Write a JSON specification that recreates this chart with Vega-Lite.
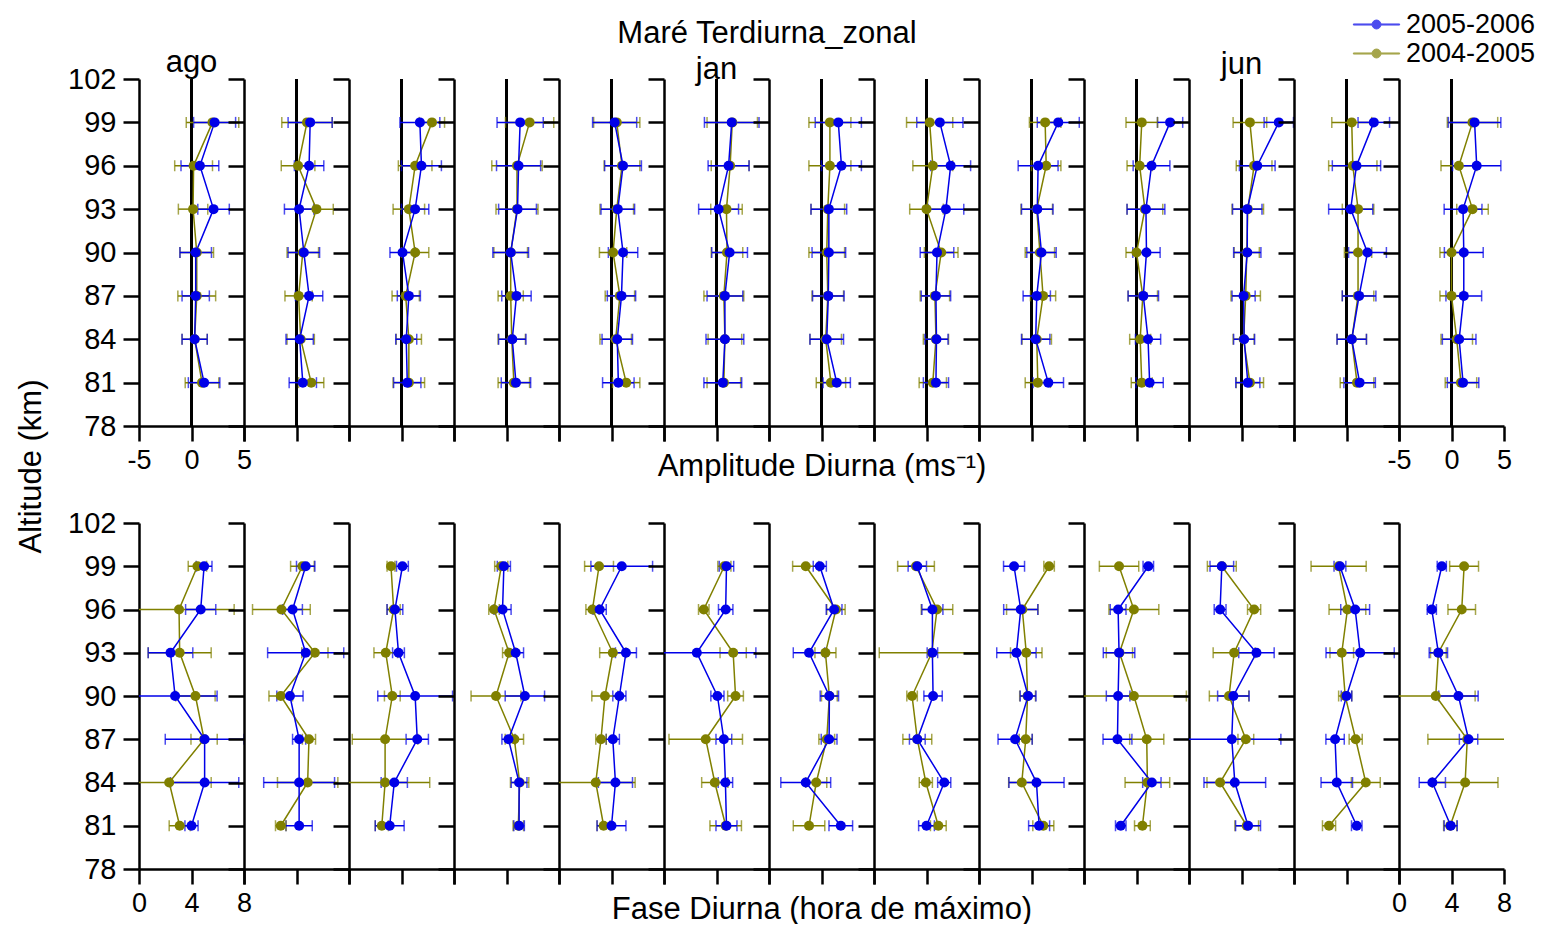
{
"$schema": "https://vega.github.io/schema/vega-lite/v6.json",
"background": "white",
"padding": {"left": 15, "top": 10, "right": 5, "bottom": 0},
"data": {"name": "d"},
"datasets": {"d": [
{"m":1,"a":99,"p":"2004-2005","amp":2.0,"ea":2.5,"f":4.45,"ef":0.7},
{"m":1,"a":96,"p":"2004-2005","amp":0.2,"ea":1.8,"f":3.05,"ef":4.2},
{"m":1,"a":93,"p":"2004-2005","amp":0.15,"ea":1.4,"f":3.1,"ef":2.4},
{"m":1,"a":90,"p":"2004-2005","amp":0.5,"ea":1.6,"f":4.3,"ef":1.5},
{"m":1,"a":87,"p":"2004-2005","amp":0.5,"ea":1.8,"f":4.96,"ef":1.0},
{"m":1,"a":84,"p":"2004-2005","amp":0.3,"ea":1.2,"f":2.3,"ef":3.2},
{"m":1,"a":81,"p":"2004-2005","amp":1.0,"ea":1.6,"f":3.1,"ef":0.8},
{"m":2,"a":99,"p":"2004-2005","amp":1.0,"ea":2.4,"f":4.45,"ef":0.9},
{"m":2,"a":96,"p":"2004-2005","amp":0.15,"ea":1.6,"f":2.85,"ef":2.2},
{"m":2,"a":93,"p":"2004-2005","amp":1.9,"ea":1.6,"f":5.4,"ef":1.0},
{"m":2,"a":90,"p":"2004-2005","amp":0.6,"ea":1.5,"f":2.8,"ef":0.9},
{"m":2,"a":87,"p":"2004-2005","amp":0.2,"ea":1.3,"f":4.95,"ef":0.5},
{"m":2,"a":84,"p":"2004-2005","amp":0.4,"ea":1.3,"f":4.85,"ef":2.3},
{"m":2,"a":81,"p":"2004-2005","amp":1.4,"ea":1.2,"f":2.8,"ef":0.4},
{"m":3,"a":99,"p":"2004-2005","amp":2.9,"ea":1.2,"f":3.2,"ef":0.3},
{"m":3,"a":96,"p":"2004-2005","amp":1.3,"ea":1.6,"f":3.4,"ef":0.5},
{"m":3,"a":93,"p":"2004-2005","amp":0.7,"ea":1.5,"f":2.8,"ef":0.9},
{"m":3,"a":90,"p":"2004-2005","amp":1.3,"ea":1.3,"f":3.3,"ef":0.6},
{"m":3,"a":87,"p":"2004-2005","amp":0.4,"ea":1.3,"f":2.75,"ef":2.5},
{"m":3,"a":84,"p":"2004-2005","amp":0.7,"ea":1.2,"f":2.75,"ef":3.4},
{"m":3,"a":81,"p":"2004-2005","amp":0.7,"ea":1.5,"f":2.5,"ef":0.5},
{"m":4,"a":99,"p":"2004-2005","amp":2.2,"ea":2.3,"f":3.6,"ef":0.5},
{"m":4,"a":96,"p":"2004-2005","amp":1.0,"ea":2.4,"f":3.05,"ef":0.4},
{"m":4,"a":93,"p":"2004-2005","amp":1.0,"ea":2.0,"f":4.2,"ef":0.5},
{"m":4,"a":90,"p":"2004-2005","amp":0.4,"ea":1.6,"f":3.2,"ef":1.9},
{"m":4,"a":87,"p":"2004-2005","amp":0.4,"ea":1.2,"f":4.6,"ef":0.7},
{"m":4,"a":84,"p":"2004-2005","amp":0.5,"ea":1.3,"f":5.0,"ef":0.7},
{"m":4,"a":81,"p":"2004-2005","amp":0.7,"ea":1.5,"f":4.9,"ef":0.4},
{"m":5,"a":99,"p":"2004-2005","amp":0.5,"ea":2.2,"f":3.05,"ef":1.1},
{"m":5,"a":96,"p":"2004-2005","amp":1.0,"ea":1.7,"f":2.55,"ef":0.5},
{"m":5,"a":93,"p":"2004-2005","amp":0.5,"ea":1.6,"f":4.1,"ef":1.0},
{"m":5,"a":90,"p":"2004-2005","amp":0.15,"ea":1.3,"f":3.5,"ef":1.0},
{"m":5,"a":87,"p":"2004-2005","amp":0.8,"ea":1.4,"f":3.2,"ef":0.4},
{"m":5,"a":84,"p":"2004-2005","amp":0.4,"ea":1.5,"f":2.8,"ef":3.0},
{"m":5,"a":81,"p":"2004-2005","amp":1.4,"ea":1.3,"f":3.4,"ef":0.5},
{"m":6,"a":99,"p":"2004-2005","amp":1.5,"ea":2.4,"f":4.6,"ef":0.5},
{"m":6,"a":96,"p":"2004-2005","amp":1.3,"ea":1.8,"f":3.03,"ef":0.4},
{"m":6,"a":93,"p":"2004-2005","amp":0.95,"ea":1.5,"f":5.27,"ef":1.0},
{"m":6,"a":90,"p":"2004-2005","amp":1.0,"ea":1.5,"f":5.45,"ef":0.6},
{"m":6,"a":87,"p":"2004-2005","amp":0.7,"ea":1.9,"f":3.18,"ef":2.8},
{"m":6,"a":84,"p":"2004-2005","amp":0.8,"ea":1.6,"f":3.87,"ef":1.0},
{"m":6,"a":81,"p":"2004-2005","amp":0.7,"ea":1.6,"f":4.7,"ef":1.2},
{"m":7,"a":99,"p":"2004-2005","amp":0.8,"ea":2.0,"f":2.8,"ef":1.0},
{"m":7,"a":96,"p":"2004-2005","amp":0.8,"ea":2.0,"f":5.1,"ef":0.7},
{"m":7,"a":93,"p":"2004-2005","amp":0.6,"ea":1.6,"f":4.3,"ef":0.8},
{"m":7,"a":90,"p":"2004-2005","amp":0.5,"ea":1.7,"f":4.6,"ef":0.6},
{"m":7,"a":87,"p":"2004-2005","amp":0.6,"ea":1.5,"f":4.4,"ef":0.6},
{"m":7,"a":84,"p":"2004-2005","amp":0.4,"ea":1.5,"f":3.6,"ef":0.8},
{"m":7,"a":81,"p":"2004-2005","amp":0.9,"ea":1.4,"f":3.05,"ef":1.2},
{"m":8,"a":99,"p":"2004-2005","amp":0.3,"ea":2.2,"f":3.2,"ef":1.4},
{"m":8,"a":96,"p":"2004-2005","amp":0.6,"ea":1.9,"f":4.8,"ef":1.2},
{"m":8,"a":93,"p":"2004-2005","amp":0.0,"ea":1.6,"f":4.4,"ef":4.0},
{"m":8,"a":90,"p":"2004-2005","amp":1.4,"ea":1.6,"f":2.9,"ef":0.4},
{"m":8,"a":87,"p":"2004-2005","amp":0.8,"ea":1.4,"f":3.3,"ef":1.1},
{"m":8,"a":84,"p":"2004-2005","amp":0.9,"ea":1.2,"f":3.95,"ef":0.5},
{"m":8,"a":81,"p":"2004-2005","amp":0.6,"ea":1.3,"f":4.9,"ef":0.6},
{"m":9,"a":99,"p":"2004-2005","amp":1.3,"ea":1.5,"f":5.34,"ef":0.4},
{"m":9,"a":96,"p":"2004-2005","amp":1.4,"ea":1.4,"f":3.3,"ef":1.2},
{"m":9,"a":93,"p":"2004-2005","amp":0.5,"ea":1.5,"f":3.6,"ef":1.2},
{"m":9,"a":90,"p":"2004-2005","amp":0.8,"ea":1.4,"f":3.7,"ef":0.6},
{"m":9,"a":87,"p":"2004-2005","amp":1.1,"ea":1.2,"f":3.56,"ef":0.5},
{"m":9,"a":84,"p":"2004-2005","amp":0.5,"ea":1.4,"f":3.26,"ef":1.0},
{"m":9,"a":81,"p":"2004-2005","amp":0.6,"ea":1.2,"f":4.9,"ef":0.8},
{"m":10,"a":99,"p":"2004-2005","amp":0.5,"ea":1.5,"f":2.67,"ef":1.5},
{"m":10,"a":96,"p":"2004-2005","amp":0.3,"ea":1.2,"f":3.8,"ef":1.9},
{"m":10,"a":93,"p":"2004-2005","amp":0.8,"ea":1.7,"f":2.7,"ef":1.0},
{"m":10,"a":90,"p":"2004-2005","amp":0.0,"ea":1.0,"f":3.8,"ef":4.0},
{"m":10,"a":87,"p":"2004-2005","amp":0.6,"ea":1.4,"f":4.78,"ef":1.3},
{"m":10,"a":84,"p":"2004-2005","amp":0.35,"ea":1.0,"f":4.83,"ef":1.7},
{"m":10,"a":81,"p":"2004-2005","amp":0.5,"ea":1.0,"f":4.45,"ef":0.6},
{"m":11,"a":99,"p":"2004-2005","amp":0.8,"ea":1.6,"f":2.5,"ef":1.1},
{"m":11,"a":96,"p":"2004-2005","amp":1.2,"ea":1.7,"f":4.96,"ef":0.5},
{"m":11,"a":93,"p":"2004-2005","amp":0.6,"ea":1.5,"f":3.44,"ef":1.6},
{"m":11,"a":90,"p":"2004-2005","amp":0.5,"ea":1.2,"f":3.05,"ef":1.5},
{"m":11,"a":87,"p":"2004-2005","amp":0.4,"ea":1.4,"f":4.33,"ef":0.6},
{"m":11,"a":84,"p":"2004-2005","amp":0.2,"ea":1.0,"f":2.37,"ef":1.0},
{"m":11,"a":81,"p":"2004-2005","amp":0.8,"ea":1.3,"f":4.4,"ef":0.9},
{"m":12,"a":99,"p":"2004-2005","amp":0.5,"ea":1.9,"f":3.4,"ef":2.1},
{"m":12,"a":96,"p":"2004-2005","amp":0.6,"ea":2.3,"f":4.07,"ef":1.4},
{"m":12,"a":93,"p":"2004-2005","amp":1.1,"ea":1.5,"f":3.64,"ef":0.9},
{"m":12,"a":90,"p":"2004-2005","amp":1.1,"ea":1.3,"f":3.9,"ef":0.5},
{"m":12,"a":87,"p":"2004-2005","amp":1.1,"ea":1.5,"f":4.7,"ef":0.5},
{"m":12,"a":84,"p":"2004-2005","amp":0.5,"ea":1.4,"f":5.47,"ef":1.1},
{"m":12,"a":81,"p":"2004-2005","amp":1.0,"ea":1.6,"f":2.67,"ef":0.5},
{"m":13,"a":99,"p":"2004-2005","amp":2.0,"ea":2.4,"f":4.96,"ef":1.1},
{"m":13,"a":96,"p":"2004-2005","amp":0.7,"ea":1.7,"f":4.78,"ef":1.05},
{"m":13,"a":93,"p":"2004-2005","amp":2.0,"ea":1.5,"f":3.0,"ef":0.6},
{"m":13,"a":90,"p":"2004-2005","amp":0.0,"ea":1.1,"f":2.8,"ef":3.0},
{"m":13,"a":87,"p":"2004-2005","amp":0.0,"ea":1.1,"f":5.2,"ef":3.0},
{"m":13,"a":84,"p":"2004-2005","amp":0.5,"ea":1.5,"f":5.04,"ef":2.5},
{"m":13,"a":81,"p":"2004-2005","amp":0.9,"ea":1.5,"f":3.9,"ef":0.5},
{"m":1,"a":99,"p":"2005-2006","amp":2.2,"ea":2.0,"f":4.96,"ef":0.6},
{"m":1,"a":96,"p":"2005-2006","amp":0.8,"ea":1.8,"f":4.7,"ef":1.15},
{"m":1,"a":93,"p":"2005-2006","amp":2.1,"ea":1.5,"f":2.4,"ef":1.7},
{"m":1,"a":90,"p":"2005-2006","amp":0.4,"ea":1.5,"f":2.75,"ef":3.2},
{"m":1,"a":87,"p":"2005-2006","amp":0.4,"ea":1.3,"f":5.0,"ef":3.0},
{"m":1,"a":84,"p":"2005-2006","amp":0.3,"ea":1.2,"f":5.0,"ef":2.6},
{"m":1,"a":81,"p":"2005-2006","amp":1.2,"ea":1.5,"f":4.0,"ef":0.5},
{"m":2,"a":99,"p":"2005-2006","amp":1.3,"ea":2.1,"f":4.7,"ef":0.7},
{"m":2,"a":96,"p":"2005-2006","amp":1.2,"ea":1.4,"f":3.7,"ef":0.75},
{"m":2,"a":93,"p":"2005-2006","amp":0.25,"ea":1.4,"f":4.7,"ef":2.9},
{"m":2,"a":90,"p":"2005-2006","amp":0.7,"ea":1.5,"f":3.5,"ef":1.0},
{"m":2,"a":87,"p":"2005-2006","amp":1.2,"ea":1.3,"f":4.2,"ef":0.5},
{"m":2,"a":84,"p":"2005-2006","amp":0.3,"ea":1.3,"f":4.2,"ef":2.7},
{"m":2,"a":81,"p":"2005-2006","amp":0.6,"ea":1.3,"f":4.2,"ef":1.0},
{"m":3,"a":99,"p":"2005-2006","amp":1.75,"ea":1.9,"f":4.07,"ef":0.45},
{"m":3,"a":96,"p":"2005-2006","amp":1.9,"ea":1.9,"f":3.5,"ef":0.6},
{"m":3,"a":93,"p":"2005-2006","amp":1.3,"ea":1.3,"f":3.77,"ef":0.45},
{"m":3,"a":90,"p":"2005-2006","amp":0.1,"ea":1.2,"f":5.04,"ef":2.85},
{"m":3,"a":87,"p":"2005-2006","amp":0.7,"ea":1.1,"f":5.2,"ef":0.85},
{"m":3,"a":84,"p":"2005-2006","amp":0.45,"ea":1.0,"f":3.45,"ef":1.0},
{"m":3,"a":81,"p":"2005-2006","amp":0.55,"ea":1.3,"f":3.1,"ef":1.1},
{"m":4,"a":99,"p":"2005-2006","amp":1.3,"ea":2.2,"f":3.8,"ef":0.5},
{"m":4,"a":96,"p":"2005-2006","amp":1.15,"ea":2.1,"f":3.7,"ef":0.65},
{"m":4,"a":93,"p":"2005-2006","amp":1.05,"ea":1.8,"f":4.7,"ef":0.6},
{"m":4,"a":90,"p":"2005-2006","amp":0.4,"ea":1.7,"f":5.4,"ef":1.5},
{"m":4,"a":87,"p":"2005-2006","amp":0.95,"ea":1.4,"f":4.15,"ef":0.5},
{"m":4,"a":84,"p":"2005-2006","amp":0.55,"ea":1.3,"f":4.96,"ef":0.6},
{"m":4,"a":81,"p":"2005-2006","amp":0.9,"ea":1.4,"f":4.96,"ef":0.4},
{"m":5,"a":99,"p":"2005-2006","amp":0.3,"ea":2.1,"f":4.78,"ef":2.35},
{"m":5,"a":96,"p":"2005-2006","amp":1.1,"ea":1.75,"f":3.1,"ef":0.5},
{"m":5,"a":93,"p":"2005-2006","amp":0.6,"ea":1.6,"f":5.1,"ef":0.8},
{"m":5,"a":90,"p":"2005-2006","amp":1.1,"ea":1.4,"f":4.6,"ef":0.5},
{"m":5,"a":87,"p":"2005-2006","amp":0.95,"ea":1.35,"f":4.1,"ef":0.5},
{"m":5,"a":84,"p":"2005-2006","amp":0.55,"ea":1.45,"f":4.3,"ef":1.3},
{"m":5,"a":81,"p":"2005-2006","amp":0.65,"ea":1.5,"f":4.0,"ef":1.1},
{"m":6,"a":99,"p":"2005-2006","amp":1.45,"ea":2.6,"f":4.76,"ef":0.55},
{"m":6,"a":96,"p":"2005-2006","amp":1.15,"ea":1.95,"f":4.7,"ef":0.55},
{"m":6,"a":93,"p":"2005-2006","amp":0.2,"ea":1.9,"f":2.5,"ef":4.5},
{"m":6,"a":90,"p":"2005-2006","amp":1.25,"ea":1.7,"f":4.07,"ef":0.5},
{"m":6,"a":87,"p":"2005-2006","amp":0.8,"ea":1.7,"f":4.56,"ef":0.6},
{"m":6,"a":84,"p":"2005-2006","amp":0.8,"ea":1.8,"f":4.68,"ef":0.55},
{"m":6,"a":81,"p":"2005-2006","amp":0.6,"ea":1.8,"f":4.76,"ef":0.8},
{"m":7,"a":99,"p":"2005-2006","amp":1.6,"ea":2.2,"f":3.87,"ef":0.5},
{"m":7,"a":96,"p":"2005-2006","amp":1.9,"ea":1.9,"f":4.96,"ef":0.6},
{"m":7,"a":93,"p":"2005-2006","amp":0.7,"ea":1.7,"f":3.05,"ef":1.2},
{"m":7,"a":90,"p":"2005-2006","amp":0.7,"ea":1.6,"f":4.6,"ef":0.7},
{"m":7,"a":87,"p":"2005-2006","amp":0.65,"ea":1.5,"f":4.58,"ef":0.6},
{"m":7,"a":84,"p":"2005-2006","amp":0.5,"ea":1.6,"f":2.8,"ef":1.9},
{"m":7,"a":81,"p":"2005-2006","amp":1.45,"ea":1.3,"f":5.47,"ef":0.9},
{"m":8,"a":99,"p":"2005-2006","amp":1.27,"ea":2.2,"f":3.3,"ef":0.7},
{"m":8,"a":96,"p":"2005-2006","amp":2.3,"ea":1.9,"f":4.45,"ef":0.8},
{"m":8,"a":93,"p":"2005-2006","amp":1.85,"ea":1.7,"f":4.45,"ef":0.4},
{"m":8,"a":90,"p":"2005-2006","amp":1.0,"ea":1.6,"f":4.5,"ef":0.7},
{"m":8,"a":87,"p":"2005-2006","amp":0.9,"ea":1.4,"f":3.3,"ef":0.6},
{"m":8,"a":84,"p":"2005-2006","amp":0.95,"ea":1.1,"f":5.35,"ef":0.5},
{"m":8,"a":81,"p":"2005-2006","amp":0.9,"ea":1.2,"f":4.0,"ef":0.6},
{"m":9,"a":99,"p":"2005-2006","amp":2.55,"ea":2.0,"f":2.67,"ef":0.8},
{"m":9,"a":96,"p":"2005-2006","amp":0.63,"ea":1.9,"f":3.18,"ef":1.3},
{"m":9,"a":93,"p":"2005-2006","amp":0.55,"ea":1.5,"f":2.85,"ef":1.5},
{"m":9,"a":90,"p":"2005-2006","amp":0.95,"ea":1.4,"f":3.74,"ef":0.6},
{"m":9,"a":87,"p":"2005-2006","amp":0.5,"ea":1.3,"f":2.75,"ef":1.3},
{"m":9,"a":84,"p":"2005-2006","amp":0.4,"ea":1.35,"f":4.38,"ef":2.1},
{"m":9,"a":81,"p":"2005-2006","amp":1.6,"ea":1.45,"f":4.58,"ef":0.8},
{"m":10,"a":99,"p":"2005-2006","amp":3.2,"ea":1.2,"f":4.9,"ef":0.4},
{"m":10,"a":96,"p":"2005-2006","amp":1.43,"ea":1.75,"f":2.6,"ef":0.6},
{"m":10,"a":93,"p":"2005-2006","amp":0.9,"ea":1.8,"f":2.67,"ef":1.2},
{"m":10,"a":90,"p":"2005-2006","amp":0.95,"ea":1.3,"f":2.6,"ef":0.9},
{"m":10,"a":87,"p":"2005-2006","amp":0.65,"ea":1.45,"f":2.55,"ef":1.1},
{"m":10,"a":84,"p":"2005-2006","amp":1.1,"ea":1.2,"f":5.17,"ef":0.7},
{"m":10,"a":81,"p":"2005-2006","amp":1.25,"ea":1.3,"f":2.8,"ef":0.4},
{"m":11,"a":99,"p":"2005-2006","amp":3.55,"ea":1.4,"f":2.5,"ef":0.9},
{"m":11,"a":96,"p":"2005-2006","amp":1.5,"ea":1.7,"f":2.37,"ef":0.45},
{"m":11,"a":93,"p":"2005-2006","amp":0.55,"ea":1.4,"f":5.14,"ef":1.35},
{"m":11,"a":90,"p":"2005-2006","amp":0.55,"ea":1.3,"f":3.38,"ef":1.2},
{"m":11,"a":87,"p":"2005-2006","amp":0.2,"ea":1.1,"f":3.26,"ef":3.74},
{"m":11,"a":84,"p":"2005-2006","amp":0.25,"ea":1.0,"f":3.49,"ef":2.35},
{"m":11,"a":81,"p":"2005-2006","amp":0.6,"ea":1.15,"f":4.5,"ef":0.95},
{"m":12,"a":99,"p":"2005-2006","amp":2.6,"ea":1.5,"f":3.5,"ef":0.45},
{"m":12,"a":96,"p":"2005-2006","amp":0.95,"ea":2.3,"f":4.66,"ef":1.1},
{"m":12,"a":93,"p":"2005-2006","amp":0.4,"ea":2.1,"f":5.04,"ef":2.6},
{"m":12,"a":90,"p":"2005-2006","amp":2.0,"ea":1.8,"f":4.0,"ef":0.4},
{"m":12,"a":87,"p":"2005-2006","amp":1.2,"ea":1.6,"f":3.13,"ef":0.7},
{"m":12,"a":84,"p":"2005-2006","amp":0.5,"ea":1.4,"f":3.26,"ef":1.2},
{"m":12,"a":81,"p":"2005-2006","amp":1.25,"ea":1.5,"f":4.78,"ef":0.4},
{"m":13,"a":99,"p":"2005-2006","amp":2.2,"ea":2.5,"f":3.26,"ef":0.35},
{"m":13,"a":96,"p":"2005-2006","amp":2.4,"ea":2.3,"f":2.5,"ef":0.35},
{"m":13,"a":93,"p":"2005-2006","amp":1.1,"ea":1.8,"f":3.0,"ef":0.7},
{"m":13,"a":90,"p":"2005-2006","amp":1.17,"ea":1.85,"f":4.53,"ef":1.5},
{"m":13,"a":87,"p":"2005-2006","amp":1.17,"ea":1.7,"f":5.3,"ef":0.7},
{"m":13,"a":84,"p":"2005-2006","amp":0.73,"ea":1.6,"f":2.54,"ef":1.0},
{"m":13,"a":81,"p":"2005-2006","amp":1.1,"ea":1.5,"f":3.94,"ef":0.5}
]},
"columns": 13,
"spacing": {"row": 97, "column": 0},
"bounds": "flush",
"concat": [
{"width":105,"height":347,"title":{"text":"ago","frame":"group","offset":-14},"transform":[{"filter":"datum.m==1"}],"layer":[
{"mark":{"type":"rule","color":"black","strokeWidth":2.5},"encoding":{"x":{"datum":0,"type":"quantitative"}}},
{"mark":{"type":"errorbar","ticks":{"size":11},"thickness":1.5},"encoding":{"x":{"field":"amp","type":"quantitative","scale":{"domain":[-5,5]},"axis":{"values":[-5,-2.5,0,2.5,5],"tickSize":{"condition":{"test":"datum.value % 5 == 0","value":15},"value":8},"labelExpr":"datum.value % 5 == 0 ? (datum.value < 0 ? '-' + abs(datum.value) : '' + datum.value) : ''","labelOverlap":false,"labelFlush":false,"title":null}},"xError":{"field":"ea"},"y":{"field":"a","type":"quantitative","scale":{"domain":[78,102]},"axis":{"values":[78,79.5,81,82.5,84,85.5,87,88.5,90,91.5,93,94.5,96,97.5,99,100.5,102],"tickSize":{"condition":{"test":"datum.value % 3 == 0","value":16},"value":8},"labelExpr":"datum.value % 3 == 0 ? datum.label : ''","title":"Altitude (km)","titleX":-108,"titleY":387,"titleAngle":-90,"titleAlign":"center","titleBaseline":"middle"}},"color":{"field":"p","type":"nominal","scale":{"domain":["2005-2006","2004-2005"],"range":["#0000e8","#808000"]}}}},
{"mark":"line","encoding":{"x":{"field":"amp","type":"quantitative"},"y":{"field":"a","type":"quantitative"},"order":{"field":"a","type":"quantitative"},"color":{"field":"p","type":"nominal","scale":{"domain":["2005-2006","2004-2005"],"range":["#0000e8","#808000"]}}}},
{"mark":"point","encoding":{"x":{"field":"amp","type":"quantitative"},"y":{"field":"a","type":"quantitative"},"color":{"field":"p","type":"nominal","scale":{"domain":["2005-2006","2004-2005"],"range":["#0000e8","#808000"]},"legend":{"title":null,"symbolType":"M-1.65,-0.04H-0.3V0.04H-1.65Z M0.3,-0.04H1.65V0.04H0.3Z M-0.32,0A0.32,0.32 0 1,0 0.32,0A0.32,0.32 0 1,0 -0.32,0Z"}}}}
]},
{"width":105,"height":347,"transform":[{"filter":"datum.m==2"}],"layer":[
{"mark":{"type":"rule","color":"black","strokeWidth":2.5},"encoding":{"x":{"datum":0,"type":"quantitative"}}},
{"mark":{"type":"errorbar","ticks":{"size":11},"thickness":1.5},"encoding":{"x":{"field":"amp","type":"quantitative","scale":{"domain":[-5,5]},"axis":{"values":[-5,-2.5,0,2.5,5],"tickSize":{"condition":{"test":"datum.value % 5 == 0","value":15},"value":8},"labels":false,"title":null}},"xError":{"field":"ea"},"y":{"field":"a","type":"quantitative","scale":{"domain":[78,102]},"axis":{"values":[78,79.5,81,82.5,84,85.5,87,88.5,90,91.5,93,94.5,96,97.5,99,100.5,102],"tickSize":{"condition":{"test":"datum.value % 3 == 0","value":16},"value":8},"labels":false,"title":null}},"color":{"field":"p","type":"nominal","scale":{"domain":["2005-2006","2004-2005"],"range":["#0000e8","#808000"]}}}},
{"mark":"line","encoding":{"x":{"field":"amp","type":"quantitative"},"y":{"field":"a","type":"quantitative"},"order":{"field":"a","type":"quantitative"},"color":{"field":"p","type":"nominal","scale":{"domain":["2005-2006","2004-2005"],"range":["#0000e8","#808000"]}}}},
{"mark":"point","encoding":{"x":{"field":"amp","type":"quantitative"},"y":{"field":"a","type":"quantitative"},"color":{"field":"p","type":"nominal","scale":{"domain":["2005-2006","2004-2005"],"range":["#0000e8","#808000"]},"legend":{"title":null,"symbolType":"M-1.65,-0.04H-0.3V0.04H-1.65Z M0.3,-0.04H1.65V0.04H0.3Z M-0.32,0A0.32,0.32 0 1,0 0.32,0A0.32,0.32 0 1,0 -0.32,0Z"}}}}
]},
{"width":105,"height":347,"transform":[{"filter":"datum.m==3"}],"layer":[
{"mark":{"type":"rule","color":"black","strokeWidth":2.5},"encoding":{"x":{"datum":0,"type":"quantitative"}}},
{"mark":{"type":"errorbar","ticks":{"size":11},"thickness":1.5},"encoding":{"x":{"field":"amp","type":"quantitative","scale":{"domain":[-5,5]},"axis":{"values":[-5,-2.5,0,2.5,5],"tickSize":{"condition":{"test":"datum.value % 5 == 0","value":15},"value":8},"labels":false,"title":null}},"xError":{"field":"ea"},"y":{"field":"a","type":"quantitative","scale":{"domain":[78,102]},"axis":{"values":[78,79.5,81,82.5,84,85.5,87,88.5,90,91.5,93,94.5,96,97.5,99,100.5,102],"tickSize":{"condition":{"test":"datum.value % 3 == 0","value":16},"value":8},"labels":false,"title":null}},"color":{"field":"p","type":"nominal","scale":{"domain":["2005-2006","2004-2005"],"range":["#0000e8","#808000"]}}}},
{"mark":"line","encoding":{"x":{"field":"amp","type":"quantitative"},"y":{"field":"a","type":"quantitative"},"order":{"field":"a","type":"quantitative"},"color":{"field":"p","type":"nominal","scale":{"domain":["2005-2006","2004-2005"],"range":["#0000e8","#808000"]}}}},
{"mark":"point","encoding":{"x":{"field":"amp","type":"quantitative"},"y":{"field":"a","type":"quantitative"},"color":{"field":"p","type":"nominal","scale":{"domain":["2005-2006","2004-2005"],"range":["#0000e8","#808000"]},"legend":{"title":null,"symbolType":"M-1.65,-0.04H-0.3V0.04H-1.65Z M0.3,-0.04H1.65V0.04H0.3Z M-0.32,0A0.32,0.32 0 1,0 0.32,0A0.32,0.32 0 1,0 -0.32,0Z"}}}}
]},
{"width":105,"height":347,"transform":[{"filter":"datum.m==4"}],"layer":[
{"mark":{"type":"rule","color":"black","strokeWidth":2.5},"encoding":{"x":{"datum":0,"type":"quantitative"}}},
{"mark":{"type":"errorbar","ticks":{"size":11},"thickness":1.5},"encoding":{"x":{"field":"amp","type":"quantitative","scale":{"domain":[-5,5]},"axis":{"values":[-5,-2.5,0,2.5,5],"tickSize":{"condition":{"test":"datum.value % 5 == 0","value":15},"value":8},"labels":false,"title":null}},"xError":{"field":"ea"},"y":{"field":"a","type":"quantitative","scale":{"domain":[78,102]},"axis":{"values":[78,79.5,81,82.5,84,85.5,87,88.5,90,91.5,93,94.5,96,97.5,99,100.5,102],"tickSize":{"condition":{"test":"datum.value % 3 == 0","value":16},"value":8},"labels":false,"title":null}},"color":{"field":"p","type":"nominal","scale":{"domain":["2005-2006","2004-2005"],"range":["#0000e8","#808000"]}}}},
{"mark":"line","encoding":{"x":{"field":"amp","type":"quantitative"},"y":{"field":"a","type":"quantitative"},"order":{"field":"a","type":"quantitative"},"color":{"field":"p","type":"nominal","scale":{"domain":["2005-2006","2004-2005"],"range":["#0000e8","#808000"]}}}},
{"mark":"point","encoding":{"x":{"field":"amp","type":"quantitative"},"y":{"field":"a","type":"quantitative"},"color":{"field":"p","type":"nominal","scale":{"domain":["2005-2006","2004-2005"],"range":["#0000e8","#808000"]},"legend":{"title":null,"symbolType":"M-1.65,-0.04H-0.3V0.04H-1.65Z M0.3,-0.04H1.65V0.04H0.3Z M-0.32,0A0.32,0.32 0 1,0 0.32,0A0.32,0.32 0 1,0 -0.32,0Z"}}}}
]},
{"width":105,"height":347,"transform":[{"filter":"datum.m==5"}],"layer":[
{"mark":{"type":"rule","color":"black","strokeWidth":2.5},"encoding":{"x":{"datum":0,"type":"quantitative"}}},
{"mark":{"type":"errorbar","ticks":{"size":11},"thickness":1.5},"encoding":{"x":{"field":"amp","type":"quantitative","scale":{"domain":[-5,5]},"axis":{"values":[-5,-2.5,0,2.5,5],"tickSize":{"condition":{"test":"datum.value % 5 == 0","value":15},"value":8},"labels":false,"title":null}},"xError":{"field":"ea"},"y":{"field":"a","type":"quantitative","scale":{"domain":[78,102]},"axis":{"values":[78,79.5,81,82.5,84,85.5,87,88.5,90,91.5,93,94.5,96,97.5,99,100.5,102],"tickSize":{"condition":{"test":"datum.value % 3 == 0","value":16},"value":8},"labels":false,"title":null}},"color":{"field":"p","type":"nominal","scale":{"domain":["2005-2006","2004-2005"],"range":["#0000e8","#808000"]}}}},
{"mark":"line","encoding":{"x":{"field":"amp","type":"quantitative"},"y":{"field":"a","type":"quantitative"},"order":{"field":"a","type":"quantitative"},"color":{"field":"p","type":"nominal","scale":{"domain":["2005-2006","2004-2005"],"range":["#0000e8","#808000"]}}}},
{"mark":"point","encoding":{"x":{"field":"amp","type":"quantitative"},"y":{"field":"a","type":"quantitative"},"color":{"field":"p","type":"nominal","scale":{"domain":["2005-2006","2004-2005"],"range":["#0000e8","#808000"]},"legend":{"title":null,"symbolType":"M-1.65,-0.04H-0.3V0.04H-1.65Z M0.3,-0.04H1.65V0.04H0.3Z M-0.32,0A0.32,0.32 0 1,0 0.32,0A0.32,0.32 0 1,0 -0.32,0Z"}}}}
]},
{"width":105,"height":347,"title":{"text":"jan","frame":"group","offset":-8},"transform":[{"filter":"datum.m==6"}],"layer":[
{"mark":{"type":"rule","color":"black","strokeWidth":2.5},"encoding":{"x":{"datum":0,"type":"quantitative"}}},
{"mark":{"type":"errorbar","ticks":{"size":11},"thickness":1.5},"encoding":{"x":{"field":"amp","type":"quantitative","scale":{"domain":[-5,5]},"axis":{"values":[-5,-2.5,0,2.5,5],"tickSize":{"condition":{"test":"datum.value % 5 == 0","value":15},"value":8},"labels":false,"title":null}},"xError":{"field":"ea"},"y":{"field":"a","type":"quantitative","scale":{"domain":[78,102]},"axis":{"values":[78,79.5,81,82.5,84,85.5,87,88.5,90,91.5,93,94.5,96,97.5,99,100.5,102],"tickSize":{"condition":{"test":"datum.value % 3 == 0","value":16},"value":8},"labels":false,"title":null}},"color":{"field":"p","type":"nominal","scale":{"domain":["2005-2006","2004-2005"],"range":["#0000e8","#808000"]}}}},
{"mark":"line","encoding":{"x":{"field":"amp","type":"quantitative"},"y":{"field":"a","type":"quantitative"},"order":{"field":"a","type":"quantitative"},"color":{"field":"p","type":"nominal","scale":{"domain":["2005-2006","2004-2005"],"range":["#0000e8","#808000"]}}}},
{"mark":"point","encoding":{"x":{"field":"amp","type":"quantitative"},"y":{"field":"a","type":"quantitative"},"color":{"field":"p","type":"nominal","scale":{"domain":["2005-2006","2004-2005"],"range":["#0000e8","#808000"]},"legend":{"title":null,"symbolType":"M-1.65,-0.04H-0.3V0.04H-1.65Z M0.3,-0.04H1.65V0.04H0.3Z M-0.32,0A0.32,0.32 0 1,0 0.32,0A0.32,0.32 0 1,0 -0.32,0Z"}}}}
]},
{"width":105,"height":347,"title":{"text":"Maré Terdiurna_zonal","frame":"group","offset":28,"dx":-54.5},"transform":[{"filter":"datum.m==7"}],"layer":[
{"mark":{"type":"rule","color":"black","strokeWidth":2.5},"encoding":{"x":{"datum":0,"type":"quantitative"}}},
{"mark":{"type":"errorbar","ticks":{"size":11},"thickness":1.5},"encoding":{"x":{"field":"amp","type":"quantitative","scale":{"domain":[-5,5]},"axis":{"values":[-5,-2.5,0,2.5,5],"tickSize":{"condition":{"test":"datum.value % 5 == 0","value":15},"value":8},"labels":false,"title":"Amplitude Diurna (ms⁻¹)","titleY":40,"titleBaseline":"middle"}},"xError":{"field":"ea"},"y":{"field":"a","type":"quantitative","scale":{"domain":[78,102]},"axis":{"values":[78,79.5,81,82.5,84,85.5,87,88.5,90,91.5,93,94.5,96,97.5,99,100.5,102],"tickSize":{"condition":{"test":"datum.value % 3 == 0","value":16},"value":8},"labels":false,"title":null}},"color":{"field":"p","type":"nominal","scale":{"domain":["2005-2006","2004-2005"],"range":["#0000e8","#808000"]}}}},
{"mark":"line","encoding":{"x":{"field":"amp","type":"quantitative"},"y":{"field":"a","type":"quantitative"},"order":{"field":"a","type":"quantitative"},"color":{"field":"p","type":"nominal","scale":{"domain":["2005-2006","2004-2005"],"range":["#0000e8","#808000"]}}}},
{"mark":"point","encoding":{"x":{"field":"amp","type":"quantitative"},"y":{"field":"a","type":"quantitative"},"color":{"field":"p","type":"nominal","scale":{"domain":["2005-2006","2004-2005"],"range":["#0000e8","#808000"]},"legend":{"title":null,"symbolType":"M-1.65,-0.04H-0.3V0.04H-1.65Z M0.3,-0.04H1.65V0.04H0.3Z M-0.32,0A0.32,0.32 0 1,0 0.32,0A0.32,0.32 0 1,0 -0.32,0Z"}}}}
]},
{"width":105,"height":347,"transform":[{"filter":"datum.m==8"}],"layer":[
{"mark":{"type":"rule","color":"black","strokeWidth":2.5},"encoding":{"x":{"datum":0,"type":"quantitative"}}},
{"mark":{"type":"errorbar","ticks":{"size":11},"thickness":1.5},"encoding":{"x":{"field":"amp","type":"quantitative","scale":{"domain":[-5,5]},"axis":{"values":[-5,-2.5,0,2.5,5],"tickSize":{"condition":{"test":"datum.value % 5 == 0","value":15},"value":8},"labels":false,"title":null}},"xError":{"field":"ea"},"y":{"field":"a","type":"quantitative","scale":{"domain":[78,102]},"axis":{"values":[78,79.5,81,82.5,84,85.5,87,88.5,90,91.5,93,94.5,96,97.5,99,100.5,102],"tickSize":{"condition":{"test":"datum.value % 3 == 0","value":16},"value":8},"labels":false,"title":null}},"color":{"field":"p","type":"nominal","scale":{"domain":["2005-2006","2004-2005"],"range":["#0000e8","#808000"]}}}},
{"mark":"line","encoding":{"x":{"field":"amp","type":"quantitative"},"y":{"field":"a","type":"quantitative"},"order":{"field":"a","type":"quantitative"},"color":{"field":"p","type":"nominal","scale":{"domain":["2005-2006","2004-2005"],"range":["#0000e8","#808000"]}}}},
{"mark":"point","encoding":{"x":{"field":"amp","type":"quantitative"},"y":{"field":"a","type":"quantitative"},"color":{"field":"p","type":"nominal","scale":{"domain":["2005-2006","2004-2005"],"range":["#0000e8","#808000"]},"legend":{"title":null,"symbolType":"M-1.65,-0.04H-0.3V0.04H-1.65Z M0.3,-0.04H1.65V0.04H0.3Z M-0.32,0A0.32,0.32 0 1,0 0.32,0A0.32,0.32 0 1,0 -0.32,0Z"}}}}
]},
{"width":105,"height":347,"transform":[{"filter":"datum.m==9"}],"layer":[
{"mark":{"type":"rule","color":"black","strokeWidth":2.5},"encoding":{"x":{"datum":0,"type":"quantitative"}}},
{"mark":{"type":"errorbar","ticks":{"size":11},"thickness":1.5},"encoding":{"x":{"field":"amp","type":"quantitative","scale":{"domain":[-5,5]},"axis":{"values":[-5,-2.5,0,2.5,5],"tickSize":{"condition":{"test":"datum.value % 5 == 0","value":15},"value":8},"labels":false,"title":null}},"xError":{"field":"ea"},"y":{"field":"a","type":"quantitative","scale":{"domain":[78,102]},"axis":{"values":[78,79.5,81,82.5,84,85.5,87,88.5,90,91.5,93,94.5,96,97.5,99,100.5,102],"tickSize":{"condition":{"test":"datum.value % 3 == 0","value":16},"value":8},"labels":false,"title":null}},"color":{"field":"p","type":"nominal","scale":{"domain":["2005-2006","2004-2005"],"range":["#0000e8","#808000"]}}}},
{"mark":"line","encoding":{"x":{"field":"amp","type":"quantitative"},"y":{"field":"a","type":"quantitative"},"order":{"field":"a","type":"quantitative"},"color":{"field":"p","type":"nominal","scale":{"domain":["2005-2006","2004-2005"],"range":["#0000e8","#808000"]}}}},
{"mark":"point","encoding":{"x":{"field":"amp","type":"quantitative"},"y":{"field":"a","type":"quantitative"},"color":{"field":"p","type":"nominal","scale":{"domain":["2005-2006","2004-2005"],"range":["#0000e8","#808000"]},"legend":{"title":null,"symbolType":"M-1.65,-0.04H-0.3V0.04H-1.65Z M0.3,-0.04H1.65V0.04H0.3Z M-0.32,0A0.32,0.32 0 1,0 0.32,0A0.32,0.32 0 1,0 -0.32,0Z"}}}}
]},
{"width":105,"height":347,"transform":[{"filter":"datum.m==10"}],"layer":[
{"mark":{"type":"rule","color":"black","strokeWidth":2.5},"encoding":{"x":{"datum":0,"type":"quantitative"}}},
{"mark":{"type":"errorbar","ticks":{"size":11},"thickness":1.5},"encoding":{"x":{"field":"amp","type":"quantitative","scale":{"domain":[-5,5]},"axis":{"values":[-5,-2.5,0,2.5,5],"tickSize":{"condition":{"test":"datum.value % 5 == 0","value":15},"value":8},"labels":false,"title":null}},"xError":{"field":"ea"},"y":{"field":"a","type":"quantitative","scale":{"domain":[78,102]},"axis":{"values":[78,79.5,81,82.5,84,85.5,87,88.5,90,91.5,93,94.5,96,97.5,99,100.5,102],"tickSize":{"condition":{"test":"datum.value % 3 == 0","value":16},"value":8},"labels":false,"title":null}},"color":{"field":"p","type":"nominal","scale":{"domain":["2005-2006","2004-2005"],"range":["#0000e8","#808000"]}}}},
{"mark":"line","encoding":{"x":{"field":"amp","type":"quantitative"},"y":{"field":"a","type":"quantitative"},"order":{"field":"a","type":"quantitative"},"color":{"field":"p","type":"nominal","scale":{"domain":["2005-2006","2004-2005"],"range":["#0000e8","#808000"]}}}},
{"mark":"point","encoding":{"x":{"field":"amp","type":"quantitative"},"y":{"field":"a","type":"quantitative"},"color":{"field":"p","type":"nominal","scale":{"domain":["2005-2006","2004-2005"],"range":["#0000e8","#808000"]},"legend":{"title":null,"symbolType":"M-1.65,-0.04H-0.3V0.04H-1.65Z M0.3,-0.04H1.65V0.04H0.3Z M-0.32,0A0.32,0.32 0 1,0 0.32,0A0.32,0.32 0 1,0 -0.32,0Z"}}}}
]},
{"width":105,"height":347,"title":{"text":"jun","frame":"group","offset":-3},"transform":[{"filter":"datum.m==11"}],"layer":[
{"mark":{"type":"rule","color":"black","strokeWidth":2.5},"encoding":{"x":{"datum":0,"type":"quantitative"}}},
{"mark":{"type":"errorbar","ticks":{"size":11},"thickness":1.5},"encoding":{"x":{"field":"amp","type":"quantitative","scale":{"domain":[-5,5]},"axis":{"values":[-5,-2.5,0,2.5,5],"tickSize":{"condition":{"test":"datum.value % 5 == 0","value":15},"value":8},"labels":false,"title":null}},"xError":{"field":"ea"},"y":{"field":"a","type":"quantitative","scale":{"domain":[78,102]},"axis":{"values":[78,79.5,81,82.5,84,85.5,87,88.5,90,91.5,93,94.5,96,97.5,99,100.5,102],"tickSize":{"condition":{"test":"datum.value % 3 == 0","value":16},"value":8},"labels":false,"title":null}},"color":{"field":"p","type":"nominal","scale":{"domain":["2005-2006","2004-2005"],"range":["#0000e8","#808000"]}}}},
{"mark":"line","encoding":{"x":{"field":"amp","type":"quantitative"},"y":{"field":"a","type":"quantitative"},"order":{"field":"a","type":"quantitative"},"color":{"field":"p","type":"nominal","scale":{"domain":["2005-2006","2004-2005"],"range":["#0000e8","#808000"]}}}},
{"mark":"point","encoding":{"x":{"field":"amp","type":"quantitative"},"y":{"field":"a","type":"quantitative"},"color":{"field":"p","type":"nominal","scale":{"domain":["2005-2006","2004-2005"],"range":["#0000e8","#808000"]},"legend":{"title":null,"symbolType":"M-1.65,-0.04H-0.3V0.04H-1.65Z M0.3,-0.04H1.65V0.04H0.3Z M-0.32,0A0.32,0.32 0 1,0 0.32,0A0.32,0.32 0 1,0 -0.32,0Z"}}}}
]},
{"width":105,"height":347,"transform":[{"filter":"datum.m==12"}],"layer":[
{"mark":{"type":"rule","color":"black","strokeWidth":2.5},"encoding":{"x":{"datum":0,"type":"quantitative"}}},
{"mark":{"type":"errorbar","ticks":{"size":11},"thickness":1.5},"encoding":{"x":{"field":"amp","type":"quantitative","scale":{"domain":[-5,5]},"axis":{"values":[-5,-2.5,0,2.5,5],"tickSize":{"condition":{"test":"datum.value % 5 == 0","value":15},"value":8},"labels":false,"title":null}},"xError":{"field":"ea"},"y":{"field":"a","type":"quantitative","scale":{"domain":[78,102]},"axis":{"values":[78,79.5,81,82.5,84,85.5,87,88.5,90,91.5,93,94.5,96,97.5,99,100.5,102],"tickSize":{"condition":{"test":"datum.value % 3 == 0","value":16},"value":8},"labels":false,"title":null}},"color":{"field":"p","type":"nominal","scale":{"domain":["2005-2006","2004-2005"],"range":["#0000e8","#808000"]}}}},
{"mark":"line","encoding":{"x":{"field":"amp","type":"quantitative"},"y":{"field":"a","type":"quantitative"},"order":{"field":"a","type":"quantitative"},"color":{"field":"p","type":"nominal","scale":{"domain":["2005-2006","2004-2005"],"range":["#0000e8","#808000"]}}}},
{"mark":"point","encoding":{"x":{"field":"amp","type":"quantitative"},"y":{"field":"a","type":"quantitative"},"color":{"field":"p","type":"nominal","scale":{"domain":["2005-2006","2004-2005"],"range":["#0000e8","#808000"]},"legend":{"title":null,"symbolType":"M-1.65,-0.04H-0.3V0.04H-1.65Z M0.3,-0.04H1.65V0.04H0.3Z M-0.32,0A0.32,0.32 0 1,0 0.32,0A0.32,0.32 0 1,0 -0.32,0Z"}}}}
]},
{"width":105,"height":347,"transform":[{"filter":"datum.m==13"}],"layer":[
{"mark":{"type":"rule","color":"black","strokeWidth":2.5},"encoding":{"x":{"datum":0,"type":"quantitative"}}},
{"mark":{"type":"errorbar","ticks":{"size":11},"thickness":1.5},"encoding":{"x":{"field":"amp","type":"quantitative","scale":{"domain":[-5,5]},"axis":{"values":[-5,-2.5,0,2.5,5],"tickSize":{"condition":{"test":"datum.value % 5 == 0","value":15},"value":8},"labelExpr":"datum.value % 5 == 0 ? (datum.value < 0 ? '-' + abs(datum.value) : '' + datum.value) : ''","labelOverlap":false,"labelFlush":false,"title":null}},"xError":{"field":"ea"},"y":{"field":"a","type":"quantitative","scale":{"domain":[78,102]},"axis":{"values":[78,79.5,81,82.5,84,85.5,87,88.5,90,91.5,93,94.5,96,97.5,99,100.5,102],"tickSize":{"condition":{"test":"datum.value % 3 == 0","value":16},"value":8},"labels":false,"title":null}},"color":{"field":"p","type":"nominal","scale":{"domain":["2005-2006","2004-2005"],"range":["#0000e8","#808000"]}}}},
{"mark":"line","encoding":{"x":{"field":"amp","type":"quantitative"},"y":{"field":"a","type":"quantitative"},"order":{"field":"a","type":"quantitative"},"color":{"field":"p","type":"nominal","scale":{"domain":["2005-2006","2004-2005"],"range":["#0000e8","#808000"]}}}},
{"mark":"point","encoding":{"x":{"field":"amp","type":"quantitative"},"y":{"field":"a","type":"quantitative"},"color":{"field":"p","type":"nominal","scale":{"domain":["2005-2006","2004-2005"],"range":["#0000e8","#808000"]},"legend":{"title":null,"symbolType":"M-1.65,-0.04H-0.3V0.04H-1.65Z M0.3,-0.04H1.65V0.04H0.3Z M-0.32,0A0.32,0.32 0 1,0 0.32,0A0.32,0.32 0 1,0 -0.32,0Z"}}}}
]},
{"width":105,"height":346,"transform":[{"filter":"datum.m==1"}],"layer":[
{"mark":{"type":"errorbar","ticks":{"size":11},"thickness":1.5,"clip":true},"encoding":{"x":{"field":"f","type":"quantitative","scale":{"domain":[0,8]},"axis":{"values":[0,2,4,6,8],"tickSize":{"condition":{"test":"datum.value % 4 == 0","value":15},"value":8},"labelExpr":"datum.value % 4 == 0 ? datum.label : ''","labelOverlap":false,"labelFlush":false,"title":null}},"xError":{"field":"ef"},"y":{"field":"a","type":"quantitative","scale":{"domain":[78,102]},"axis":{"values":[78,79.5,81,82.5,84,85.5,87,88.5,90,91.5,93,94.5,96,97.5,99,100.5,102],"tickSize":{"condition":{"test":"datum.value % 3 == 0","value":16},"value":8},"labelExpr":"datum.value % 3 == 0 ? datum.label : ''","title":null}},"color":{"field":"p","type":"nominal","scale":{"domain":["2005-2006","2004-2005"],"range":["#0000e8","#808000"]}}}},
{"mark":"line","encoding":{"x":{"field":"f","type":"quantitative"},"y":{"field":"a","type":"quantitative"},"order":{"field":"a","type":"quantitative"},"color":{"field":"p","type":"nominal","scale":{"domain":["2005-2006","2004-2005"],"range":["#0000e8","#808000"]}}}},
{"mark":"point","encoding":{"x":{"field":"f","type":"quantitative"},"y":{"field":"a","type":"quantitative"},"color":{"field":"p","type":"nominal","scale":{"domain":["2005-2006","2004-2005"],"range":["#0000e8","#808000"]},"legend":{"title":null,"symbolType":"M-1.65,-0.04H-0.3V0.04H-1.65Z M0.3,-0.04H1.65V0.04H0.3Z M-0.32,0A0.32,0.32 0 1,0 0.32,0A0.32,0.32 0 1,0 -0.32,0Z"}}}}
]},
{"width":105,"height":346,"transform":[{"filter":"datum.m==2"}],"layer":[
{"mark":{"type":"errorbar","ticks":{"size":11},"thickness":1.5,"clip":true},"encoding":{"x":{"field":"f","type":"quantitative","scale":{"domain":[0,8]},"axis":{"values":[0,2,4,6,8],"tickSize":{"condition":{"test":"datum.value % 4 == 0","value":15},"value":8},"labels":false,"title":null}},"xError":{"field":"ef"},"y":{"field":"a","type":"quantitative","scale":{"domain":[78,102]},"axis":{"values":[78,79.5,81,82.5,84,85.5,87,88.5,90,91.5,93,94.5,96,97.5,99,100.5,102],"tickSize":{"condition":{"test":"datum.value % 3 == 0","value":16},"value":8},"labels":false,"title":null}},"color":{"field":"p","type":"nominal","scale":{"domain":["2005-2006","2004-2005"],"range":["#0000e8","#808000"]}}}},
{"mark":"line","encoding":{"x":{"field":"f","type":"quantitative"},"y":{"field":"a","type":"quantitative"},"order":{"field":"a","type":"quantitative"},"color":{"field":"p","type":"nominal","scale":{"domain":["2005-2006","2004-2005"],"range":["#0000e8","#808000"]}}}},
{"mark":"point","encoding":{"x":{"field":"f","type":"quantitative"},"y":{"field":"a","type":"quantitative"},"color":{"field":"p","type":"nominal","scale":{"domain":["2005-2006","2004-2005"],"range":["#0000e8","#808000"]},"legend":{"title":null,"symbolType":"M-1.65,-0.04H-0.3V0.04H-1.65Z M0.3,-0.04H1.65V0.04H0.3Z M-0.32,0A0.32,0.32 0 1,0 0.32,0A0.32,0.32 0 1,0 -0.32,0Z"}}}}
]},
{"width":105,"height":346,"transform":[{"filter":"datum.m==3"}],"layer":[
{"mark":{"type":"errorbar","ticks":{"size":11},"thickness":1.5,"clip":true},"encoding":{"x":{"field":"f","type":"quantitative","scale":{"domain":[0,8]},"axis":{"values":[0,2,4,6,8],"tickSize":{"condition":{"test":"datum.value % 4 == 0","value":15},"value":8},"labels":false,"title":null}},"xError":{"field":"ef"},"y":{"field":"a","type":"quantitative","scale":{"domain":[78,102]},"axis":{"values":[78,79.5,81,82.5,84,85.5,87,88.5,90,91.5,93,94.5,96,97.5,99,100.5,102],"tickSize":{"condition":{"test":"datum.value % 3 == 0","value":16},"value":8},"labels":false,"title":null}},"color":{"field":"p","type":"nominal","scale":{"domain":["2005-2006","2004-2005"],"range":["#0000e8","#808000"]}}}},
{"mark":"line","encoding":{"x":{"field":"f","type":"quantitative"},"y":{"field":"a","type":"quantitative"},"order":{"field":"a","type":"quantitative"},"color":{"field":"p","type":"nominal","scale":{"domain":["2005-2006","2004-2005"],"range":["#0000e8","#808000"]}}}},
{"mark":"point","encoding":{"x":{"field":"f","type":"quantitative"},"y":{"field":"a","type":"quantitative"},"color":{"field":"p","type":"nominal","scale":{"domain":["2005-2006","2004-2005"],"range":["#0000e8","#808000"]},"legend":{"title":null,"symbolType":"M-1.65,-0.04H-0.3V0.04H-1.65Z M0.3,-0.04H1.65V0.04H0.3Z M-0.32,0A0.32,0.32 0 1,0 0.32,0A0.32,0.32 0 1,0 -0.32,0Z"}}}}
]},
{"width":105,"height":346,"transform":[{"filter":"datum.m==4"}],"layer":[
{"mark":{"type":"errorbar","ticks":{"size":11},"thickness":1.5,"clip":true},"encoding":{"x":{"field":"f","type":"quantitative","scale":{"domain":[0,8]},"axis":{"values":[0,2,4,6,8],"tickSize":{"condition":{"test":"datum.value % 4 == 0","value":15},"value":8},"labels":false,"title":null}},"xError":{"field":"ef"},"y":{"field":"a","type":"quantitative","scale":{"domain":[78,102]},"axis":{"values":[78,79.5,81,82.5,84,85.5,87,88.5,90,91.5,93,94.5,96,97.5,99,100.5,102],"tickSize":{"condition":{"test":"datum.value % 3 == 0","value":16},"value":8},"labels":false,"title":null}},"color":{"field":"p","type":"nominal","scale":{"domain":["2005-2006","2004-2005"],"range":["#0000e8","#808000"]}}}},
{"mark":"line","encoding":{"x":{"field":"f","type":"quantitative"},"y":{"field":"a","type":"quantitative"},"order":{"field":"a","type":"quantitative"},"color":{"field":"p","type":"nominal","scale":{"domain":["2005-2006","2004-2005"],"range":["#0000e8","#808000"]}}}},
{"mark":"point","encoding":{"x":{"field":"f","type":"quantitative"},"y":{"field":"a","type":"quantitative"},"color":{"field":"p","type":"nominal","scale":{"domain":["2005-2006","2004-2005"],"range":["#0000e8","#808000"]},"legend":{"title":null,"symbolType":"M-1.65,-0.04H-0.3V0.04H-1.65Z M0.3,-0.04H1.65V0.04H0.3Z M-0.32,0A0.32,0.32 0 1,0 0.32,0A0.32,0.32 0 1,0 -0.32,0Z"}}}}
]},
{"width":105,"height":346,"transform":[{"filter":"datum.m==5"}],"layer":[
{"mark":{"type":"errorbar","ticks":{"size":11},"thickness":1.5,"clip":true},"encoding":{"x":{"field":"f","type":"quantitative","scale":{"domain":[0,8]},"axis":{"values":[0,2,4,6,8],"tickSize":{"condition":{"test":"datum.value % 4 == 0","value":15},"value":8},"labels":false,"title":null}},"xError":{"field":"ef"},"y":{"field":"a","type":"quantitative","scale":{"domain":[78,102]},"axis":{"values":[78,79.5,81,82.5,84,85.5,87,88.5,90,91.5,93,94.5,96,97.5,99,100.5,102],"tickSize":{"condition":{"test":"datum.value % 3 == 0","value":16},"value":8},"labels":false,"title":null}},"color":{"field":"p","type":"nominal","scale":{"domain":["2005-2006","2004-2005"],"range":["#0000e8","#808000"]}}}},
{"mark":"line","encoding":{"x":{"field":"f","type":"quantitative"},"y":{"field":"a","type":"quantitative"},"order":{"field":"a","type":"quantitative"},"color":{"field":"p","type":"nominal","scale":{"domain":["2005-2006","2004-2005"],"range":["#0000e8","#808000"]}}}},
{"mark":"point","encoding":{"x":{"field":"f","type":"quantitative"},"y":{"field":"a","type":"quantitative"},"color":{"field":"p","type":"nominal","scale":{"domain":["2005-2006","2004-2005"],"range":["#0000e8","#808000"]},"legend":{"title":null,"symbolType":"M-1.65,-0.04H-0.3V0.04H-1.65Z M0.3,-0.04H1.65V0.04H0.3Z M-0.32,0A0.32,0.32 0 1,0 0.32,0A0.32,0.32 0 1,0 -0.32,0Z"}}}}
]},
{"width":105,"height":346,"transform":[{"filter":"datum.m==6"}],"layer":[
{"mark":{"type":"errorbar","ticks":{"size":11},"thickness":1.5,"clip":true},"encoding":{"x":{"field":"f","type":"quantitative","scale":{"domain":[0,8]},"axis":{"values":[0,2,4,6,8],"tickSize":{"condition":{"test":"datum.value % 4 == 0","value":15},"value":8},"labels":false,"title":null}},"xError":{"field":"ef"},"y":{"field":"a","type":"quantitative","scale":{"domain":[78,102]},"axis":{"values":[78,79.5,81,82.5,84,85.5,87,88.5,90,91.5,93,94.5,96,97.5,99,100.5,102],"tickSize":{"condition":{"test":"datum.value % 3 == 0","value":16},"value":8},"labels":false,"title":null}},"color":{"field":"p","type":"nominal","scale":{"domain":["2005-2006","2004-2005"],"range":["#0000e8","#808000"]}}}},
{"mark":"line","encoding":{"x":{"field":"f","type":"quantitative"},"y":{"field":"a","type":"quantitative"},"order":{"field":"a","type":"quantitative"},"color":{"field":"p","type":"nominal","scale":{"domain":["2005-2006","2004-2005"],"range":["#0000e8","#808000"]}}}},
{"mark":"point","encoding":{"x":{"field":"f","type":"quantitative"},"y":{"field":"a","type":"quantitative"},"color":{"field":"p","type":"nominal","scale":{"domain":["2005-2006","2004-2005"],"range":["#0000e8","#808000"]},"legend":{"title":null,"symbolType":"M-1.65,-0.04H-0.3V0.04H-1.65Z M0.3,-0.04H1.65V0.04H0.3Z M-0.32,0A0.32,0.32 0 1,0 0.32,0A0.32,0.32 0 1,0 -0.32,0Z"}}}}
]},
{"width":105,"height":346,"transform":[{"filter":"datum.m==7"}],"layer":[
{"mark":{"type":"errorbar","ticks":{"size":11},"thickness":1.5,"clip":true},"encoding":{"x":{"field":"f","type":"quantitative","scale":{"domain":[0,8]},"axis":{"values":[0,2,4,6,8],"tickSize":{"condition":{"test":"datum.value % 4 == 0","value":15},"value":8},"labels":false,"title":"Fase Diurna (hora de máximo)","titleY":40,"titleBaseline":"middle"}},"xError":{"field":"ef"},"y":{"field":"a","type":"quantitative","scale":{"domain":[78,102]},"axis":{"values":[78,79.5,81,82.5,84,85.5,87,88.5,90,91.5,93,94.5,96,97.5,99,100.5,102],"tickSize":{"condition":{"test":"datum.value % 3 == 0","value":16},"value":8},"labels":false,"title":null}},"color":{"field":"p","type":"nominal","scale":{"domain":["2005-2006","2004-2005"],"range":["#0000e8","#808000"]}}}},
{"mark":"line","encoding":{"x":{"field":"f","type":"quantitative"},"y":{"field":"a","type":"quantitative"},"order":{"field":"a","type":"quantitative"},"color":{"field":"p","type":"nominal","scale":{"domain":["2005-2006","2004-2005"],"range":["#0000e8","#808000"]}}}},
{"mark":"point","encoding":{"x":{"field":"f","type":"quantitative"},"y":{"field":"a","type":"quantitative"},"color":{"field":"p","type":"nominal","scale":{"domain":["2005-2006","2004-2005"],"range":["#0000e8","#808000"]},"legend":{"title":null,"symbolType":"M-1.65,-0.04H-0.3V0.04H-1.65Z M0.3,-0.04H1.65V0.04H0.3Z M-0.32,0A0.32,0.32 0 1,0 0.32,0A0.32,0.32 0 1,0 -0.32,0Z"}}}}
]},
{"width":105,"height":346,"transform":[{"filter":"datum.m==8"}],"layer":[
{"mark":{"type":"errorbar","ticks":{"size":11},"thickness":1.5,"clip":true},"encoding":{"x":{"field":"f","type":"quantitative","scale":{"domain":[0,8]},"axis":{"values":[0,2,4,6,8],"tickSize":{"condition":{"test":"datum.value % 4 == 0","value":15},"value":8},"labels":false,"title":null}},"xError":{"field":"ef"},"y":{"field":"a","type":"quantitative","scale":{"domain":[78,102]},"axis":{"values":[78,79.5,81,82.5,84,85.5,87,88.5,90,91.5,93,94.5,96,97.5,99,100.5,102],"tickSize":{"condition":{"test":"datum.value % 3 == 0","value":16},"value":8},"labels":false,"title":null}},"color":{"field":"p","type":"nominal","scale":{"domain":["2005-2006","2004-2005"],"range":["#0000e8","#808000"]}}}},
{"mark":"line","encoding":{"x":{"field":"f","type":"quantitative"},"y":{"field":"a","type":"quantitative"},"order":{"field":"a","type":"quantitative"},"color":{"field":"p","type":"nominal","scale":{"domain":["2005-2006","2004-2005"],"range":["#0000e8","#808000"]}}}},
{"mark":"point","encoding":{"x":{"field":"f","type":"quantitative"},"y":{"field":"a","type":"quantitative"},"color":{"field":"p","type":"nominal","scale":{"domain":["2005-2006","2004-2005"],"range":["#0000e8","#808000"]},"legend":{"title":null,"symbolType":"M-1.65,-0.04H-0.3V0.04H-1.65Z M0.3,-0.04H1.65V0.04H0.3Z M-0.32,0A0.32,0.32 0 1,0 0.32,0A0.32,0.32 0 1,0 -0.32,0Z"}}}}
]},
{"width":105,"height":346,"transform":[{"filter":"datum.m==9"}],"layer":[
{"mark":{"type":"errorbar","ticks":{"size":11},"thickness":1.5,"clip":true},"encoding":{"x":{"field":"f","type":"quantitative","scale":{"domain":[0,8]},"axis":{"values":[0,2,4,6,8],"tickSize":{"condition":{"test":"datum.value % 4 == 0","value":15},"value":8},"labels":false,"title":null}},"xError":{"field":"ef"},"y":{"field":"a","type":"quantitative","scale":{"domain":[78,102]},"axis":{"values":[78,79.5,81,82.5,84,85.5,87,88.5,90,91.5,93,94.5,96,97.5,99,100.5,102],"tickSize":{"condition":{"test":"datum.value % 3 == 0","value":16},"value":8},"labels":false,"title":null}},"color":{"field":"p","type":"nominal","scale":{"domain":["2005-2006","2004-2005"],"range":["#0000e8","#808000"]}}}},
{"mark":"line","encoding":{"x":{"field":"f","type":"quantitative"},"y":{"field":"a","type":"quantitative"},"order":{"field":"a","type":"quantitative"},"color":{"field":"p","type":"nominal","scale":{"domain":["2005-2006","2004-2005"],"range":["#0000e8","#808000"]}}}},
{"mark":"point","encoding":{"x":{"field":"f","type":"quantitative"},"y":{"field":"a","type":"quantitative"},"color":{"field":"p","type":"nominal","scale":{"domain":["2005-2006","2004-2005"],"range":["#0000e8","#808000"]},"legend":{"title":null,"symbolType":"M-1.65,-0.04H-0.3V0.04H-1.65Z M0.3,-0.04H1.65V0.04H0.3Z M-0.32,0A0.32,0.32 0 1,0 0.32,0A0.32,0.32 0 1,0 -0.32,0Z"}}}}
]},
{"width":105,"height":346,"transform":[{"filter":"datum.m==10"}],"layer":[
{"mark":{"type":"errorbar","ticks":{"size":11},"thickness":1.5,"clip":true},"encoding":{"x":{"field":"f","type":"quantitative","scale":{"domain":[0,8]},"axis":{"values":[0,2,4,6,8],"tickSize":{"condition":{"test":"datum.value % 4 == 0","value":15},"value":8},"labels":false,"title":null}},"xError":{"field":"ef"},"y":{"field":"a","type":"quantitative","scale":{"domain":[78,102]},"axis":{"values":[78,79.5,81,82.5,84,85.5,87,88.5,90,91.5,93,94.5,96,97.5,99,100.5,102],"tickSize":{"condition":{"test":"datum.value % 3 == 0","value":16},"value":8},"labels":false,"title":null}},"color":{"field":"p","type":"nominal","scale":{"domain":["2005-2006","2004-2005"],"range":["#0000e8","#808000"]}}}},
{"mark":"line","encoding":{"x":{"field":"f","type":"quantitative"},"y":{"field":"a","type":"quantitative"},"order":{"field":"a","type":"quantitative"},"color":{"field":"p","type":"nominal","scale":{"domain":["2005-2006","2004-2005"],"range":["#0000e8","#808000"]}}}},
{"mark":"point","encoding":{"x":{"field":"f","type":"quantitative"},"y":{"field":"a","type":"quantitative"},"color":{"field":"p","type":"nominal","scale":{"domain":["2005-2006","2004-2005"],"range":["#0000e8","#808000"]},"legend":{"title":null,"symbolType":"M-1.65,-0.04H-0.3V0.04H-1.65Z M0.3,-0.04H1.65V0.04H0.3Z M-0.32,0A0.32,0.32 0 1,0 0.32,0A0.32,0.32 0 1,0 -0.32,0Z"}}}}
]},
{"width":105,"height":346,"transform":[{"filter":"datum.m==11"}],"layer":[
{"mark":{"type":"errorbar","ticks":{"size":11},"thickness":1.5,"clip":true},"encoding":{"x":{"field":"f","type":"quantitative","scale":{"domain":[0,8]},"axis":{"values":[0,2,4,6,8],"tickSize":{"condition":{"test":"datum.value % 4 == 0","value":15},"value":8},"labels":false,"title":null}},"xError":{"field":"ef"},"y":{"field":"a","type":"quantitative","scale":{"domain":[78,102]},"axis":{"values":[78,79.5,81,82.5,84,85.5,87,88.5,90,91.5,93,94.5,96,97.5,99,100.5,102],"tickSize":{"condition":{"test":"datum.value % 3 == 0","value":16},"value":8},"labels":false,"title":null}},"color":{"field":"p","type":"nominal","scale":{"domain":["2005-2006","2004-2005"],"range":["#0000e8","#808000"]}}}},
{"mark":"line","encoding":{"x":{"field":"f","type":"quantitative"},"y":{"field":"a","type":"quantitative"},"order":{"field":"a","type":"quantitative"},"color":{"field":"p","type":"nominal","scale":{"domain":["2005-2006","2004-2005"],"range":["#0000e8","#808000"]}}}},
{"mark":"point","encoding":{"x":{"field":"f","type":"quantitative"},"y":{"field":"a","type":"quantitative"},"color":{"field":"p","type":"nominal","scale":{"domain":["2005-2006","2004-2005"],"range":["#0000e8","#808000"]},"legend":{"title":null,"symbolType":"M-1.65,-0.04H-0.3V0.04H-1.65Z M0.3,-0.04H1.65V0.04H0.3Z M-0.32,0A0.32,0.32 0 1,0 0.32,0A0.32,0.32 0 1,0 -0.32,0Z"}}}}
]},
{"width":105,"height":346,"transform":[{"filter":"datum.m==12"}],"layer":[
{"mark":{"type":"errorbar","ticks":{"size":11},"thickness":1.5,"clip":true},"encoding":{"x":{"field":"f","type":"quantitative","scale":{"domain":[0,8]},"axis":{"values":[0,2,4,6,8],"tickSize":{"condition":{"test":"datum.value % 4 == 0","value":15},"value":8},"labels":false,"title":null}},"xError":{"field":"ef"},"y":{"field":"a","type":"quantitative","scale":{"domain":[78,102]},"axis":{"values":[78,79.5,81,82.5,84,85.5,87,88.5,90,91.5,93,94.5,96,97.5,99,100.5,102],"tickSize":{"condition":{"test":"datum.value % 3 == 0","value":16},"value":8},"labels":false,"title":null}},"color":{"field":"p","type":"nominal","scale":{"domain":["2005-2006","2004-2005"],"range":["#0000e8","#808000"]}}}},
{"mark":"line","encoding":{"x":{"field":"f","type":"quantitative"},"y":{"field":"a","type":"quantitative"},"order":{"field":"a","type":"quantitative"},"color":{"field":"p","type":"nominal","scale":{"domain":["2005-2006","2004-2005"],"range":["#0000e8","#808000"]}}}},
{"mark":"point","encoding":{"x":{"field":"f","type":"quantitative"},"y":{"field":"a","type":"quantitative"},"color":{"field":"p","type":"nominal","scale":{"domain":["2005-2006","2004-2005"],"range":["#0000e8","#808000"]},"legend":{"title":null,"symbolType":"M-1.65,-0.04H-0.3V0.04H-1.65Z M0.3,-0.04H1.65V0.04H0.3Z M-0.32,0A0.32,0.32 0 1,0 0.32,0A0.32,0.32 0 1,0 -0.32,0Z"}}}}
]},
{"width":105,"height":346,"transform":[{"filter":"datum.m==13"}],"layer":[
{"mark":{"type":"errorbar","ticks":{"size":11},"thickness":1.5,"clip":true},"encoding":{"x":{"field":"f","type":"quantitative","scale":{"domain":[0,8]},"axis":{"values":[0,2,4,6,8],"tickSize":{"condition":{"test":"datum.value % 4 == 0","value":15},"value":8},"labelExpr":"datum.value % 4 == 0 ? datum.label : ''","labelOverlap":false,"labelFlush":false,"title":null}},"xError":{"field":"ef"},"y":{"field":"a","type":"quantitative","scale":{"domain":[78,102]},"axis":{"values":[78,79.5,81,82.5,84,85.5,87,88.5,90,91.5,93,94.5,96,97.5,99,100.5,102],"tickSize":{"condition":{"test":"datum.value % 3 == 0","value":16},"value":8},"labels":false,"title":null}},"color":{"field":"p","type":"nominal","scale":{"domain":["2005-2006","2004-2005"],"range":["#0000e8","#808000"]}}}},
{"mark":"line","encoding":{"x":{"field":"f","type":"quantitative"},"y":{"field":"a","type":"quantitative"},"order":{"field":"a","type":"quantitative"},"color":{"field":"p","type":"nominal","scale":{"domain":["2005-2006","2004-2005"],"range":["#0000e8","#808000"]}}}},
{"mark":"point","encoding":{"x":{"field":"f","type":"quantitative"},"y":{"field":"a","type":"quantitative"},"color":{"field":"p","type":"nominal","scale":{"domain":["2005-2006","2004-2005"],"range":["#0000e8","#808000"]},"legend":{"title":null,"symbolType":"M-1.65,-0.04H-0.3V0.04H-1.65Z M0.3,-0.04H1.65V0.04H0.3Z M-0.32,0A0.32,0.32 0 1,0 0.32,0A0.32,0.32 0 1,0 -0.32,0Z"}}}}
]}
],
"config": {
"font": "Liberation Sans",
"view": {"stroke": null},
"axis": {"domainColor": "black", "domainWidth": 2.5, "tickColor": "black", "tickWidth": 2.5, "grid": false, "labelFont": "Liberation Sans", "labelColor": "black", "titleFont": "Liberation Sans", "titleFontSize": 31, "titleColor": "black", "titleFontWeight": "normal"},
"axisX": {"labelFontSize": 27, "labelPadding": 6},
"axisY": {"labelFontSize": 29, "labelPadding": 7},
"title": {"font": "Liberation Sans", "fontSize": 31, "fontWeight": "normal", "color": "black"},
"point": {"filled": true, "size": 100, "opacity": 1},
"line": {"strokeWidth": 1.5},
"legend": {"orient": "none", "legendX": 1223, "legendY": -69, "labelFont": "Liberation Sans", "labelFontSize": 27, "labelColor": "black", "symbolSize": 784, "symbolStrokeWidth": 1, "rowPadding": 1, "labelOffset": 15}
}
}
